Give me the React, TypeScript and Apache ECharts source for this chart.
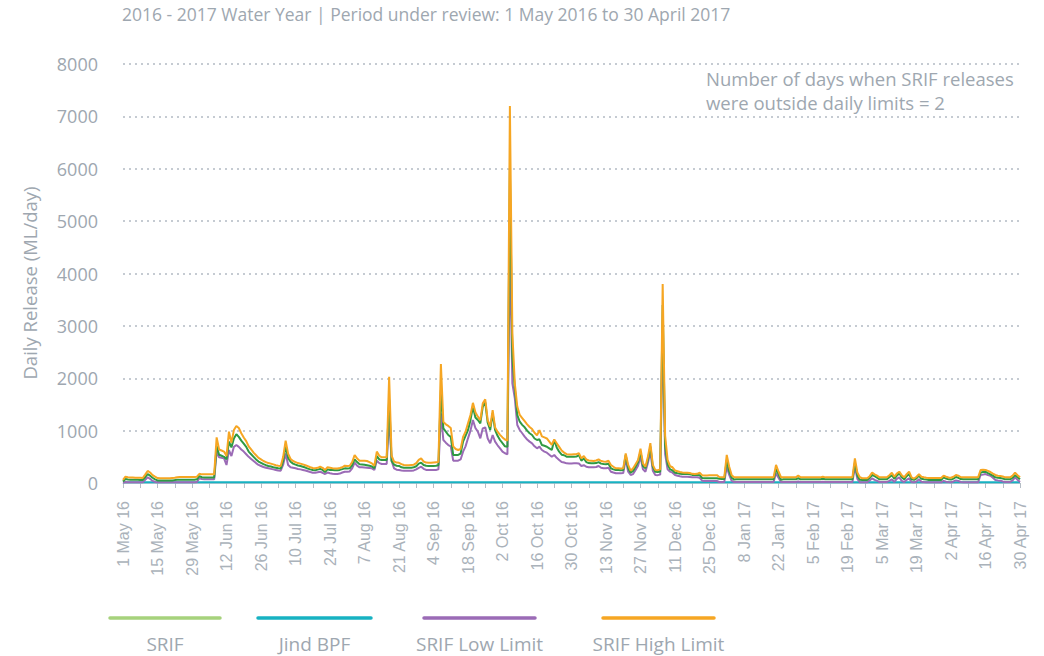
import React, { useEffect, useRef } from "react";
import * as echarts from "echarts";

const TITLE = "2016 - 2017 Water Year | Period under review: 1 May 2016 to 30 April 2017";
const NOTE_LINES = ["Number of days when SRIF releases", "were outside daily limits = 2"];
const Y_NAME = "Daily Release (ML/day)";
const SERIES_NAMES = ["SRIF", "Jind BPF", "SRIF Low Limit", "SRIF High Limit"];
const LEGEND_COLORS = ["#a6d27c", "#17b2c2", "#9b6bb6", "#f6a623"];
const LINE_COLORS = ["#2f9a43", "#17b2c2", "#9b6bb6", "#f6a623"];
const MONTHS = ["Jan", "Feb", "Mar", "Apr", "May", "Jun", "Jul", "Aug", "Sep", "Oct", "Nov", "Dec"];
const START_DATE = Date.UTC(2016, 4, 1);
const Y_TICKS = [0, 1000, 2000, 3000, 4000, 5000, 6000, 7000, 8000];

const HIGH_LIMIT = [
  60, 120, 110, 105, 105, 100, 100, 100, 95, 160,
  230, 200, 150, 120, 95, 90, 90, 90, 90, 90,
  95, 100, 110, 115, 115, 115, 115, 115, 115, 115,
  120, 175, 165, 165, 165, 165, 165, 165, 870, 640,
  620, 600, 515, 980, 770, 1010, 1088, 1050, 950, 870,
  800, 700, 640, 580, 530, 480, 450, 420, 400, 380,
  370, 355, 340, 330, 325, 500, 810, 560, 460, 420,
  400, 380, 370, 355, 340, 320, 300, 285, 280, 290,
  310, 290, 250, 300, 290, 280, 275, 275, 285, 300,
  330, 325, 330, 400, 535, 470, 425, 425, 425, 420,
  400, 375, 330, 600, 520, 490, 490, 490, 2030, 520,
  410, 390, 385, 360, 345, 340, 340, 345, 350, 380,
  440, 470, 410, 390, 385, 385, 390, 395, 400, 2270,
  1170, 1120, 1090, 1050, 700, 650, 630, 650, 880, 980,
  1140, 1300, 1530, 1350, 1266, 1200, 1520, 1597, 1200, 1075,
  1390, 1060, 980, 920, 870, 830, 810, 7200, 2860, 1900,
  1460, 1300, 1240, 1180, 1120, 1070, 1030, 960, 910, 1010,
  890, 870, 850, 790, 730, 830, 760, 690, 620, 580,
  550, 545, 545, 550, 550, 570, 470, 515, 450, 430,
  425, 420, 430, 450, 420, 410, 405, 425, 345, 310,
  280, 280, 275, 280, 565, 345, 235, 280, 360, 440,
  655, 375, 310, 500, 760, 345, 250, 245, 260, 3800,
  900, 440, 320, 300, 240, 225, 210, 200, 195, 195,
  190, 175, 170, 175, 195, 150, 145, 145, 150, 150,
  150, 150, 115, 110, 108, 535, 310, 150, 108, 108,
  108, 108, 108, 108, 108, 108, 108, 108, 108, 108,
  108, 108, 108, 108, 108, 345, 220, 110, 108, 108,
  108, 108, 108, 108, 140, 108, 108, 108, 108, 108,
  108, 108, 108, 108, 121, 108, 108, 108, 108, 108,
  108, 108, 108, 108, 108, 108, 108, 470, 200, 110,
  90, 90, 90, 130, 197, 166, 140, 108, 108, 108,
  110, 150, 197, 120, 180, 216, 150, 108, 170, 216,
  108, 85, 120, 166, 120, 108, 100, 95, 95, 95,
  95, 95, 95, 140, 120, 105, 100, 120, 153, 140,
  110, 108, 108, 108, 108, 108, 108, 108, 248, 255,
  250, 230, 210, 180, 153, 140, 134, 125, 108, 108,
  108, 140, 197, 150, 108,
];

const SRIF = [
  30, 75, 65, 60, 60, 60, 60, 58, 55, 110,
  170, 140, 100, 70, 50, 48, 48, 48, 48, 48,
  50, 55, 60, 62, 62, 62, 62, 62, 62, 62,
  70, 130, 110, 105, 105, 105, 105, 105, 705, 540,
  520, 500, 452, 790, 680, 850, 930, 880, 810, 750,
  690, 600, 550, 500, 450, 410, 385, 360, 340, 325,
  315, 300, 290, 280, 275, 420, 706, 480, 405, 370,
  350, 335, 325, 310, 295, 275, 260, 248, 245, 255,
  270, 250, 210, 260, 250, 250, 245, 245, 250, 265,
  280, 275, 280, 340, 452, 400, 357, 355, 350, 340,
  330, 317, 280, 515, 450, 440, 440, 440, 1600, 420,
  350, 330, 325, 300, 292, 290, 290, 292, 300, 320,
  370, 388, 345, 330, 325, 325, 325, 330, 340, 1775,
  1044, 980, 916, 880, 535, 535, 535, 560, 790, 900,
  1012, 1200, 1457, 1250, 1203, 1140, 1457, 1540, 1150, 1012,
  1330, 1012, 900, 821, 760, 700, 690, 6000, 2411, 1807,
  1298, 1170, 1110, 1063, 1000, 950, 916, 850, 821, 834,
  725, 710, 693, 660, 630, 821, 680, 598, 540, 530,
  502, 500, 500, 502, 505, 535, 426, 470, 400, 380,
  375, 375, 380, 400, 370, 363, 360, 368, 280, 260,
  248, 248, 245, 250, 535, 280, 197, 230, 311, 400,
  598, 325, 280, 450, 693, 311, 216, 210, 220, 3400,
  700, 360, 261, 240, 197, 185, 178, 172, 170, 170,
  165, 155, 153, 155, 150, 95, 90, 90, 90, 90,
  90, 90, 80, 75, 75, 440, 216, 100, 65, 70,
  70, 70, 70, 70, 70, 70, 70, 70, 70, 70,
  70, 70, 70, 70, 70, 261, 170, 60, 70, 70,
  70, 70, 70, 70, 90, 70, 70, 70, 70, 70,
  70, 70, 70, 70, 80, 70, 70, 70, 70, 70,
  70, 70, 70, 70, 70, 70, 70, 388, 140, 60,
  57, 57, 57, 100, 153, 130, 100, 70, 70, 70,
  72, 110, 150, 80, 140, 185, 110, 70, 130, 172,
  70, 60, 90, 140, 80, 70, 65, 57, 57, 57,
  57, 57, 57, 108, 85, 70, 65, 85, 115, 100,
  75, 70, 70, 70, 70, 70, 70, 70, 197, 210,
  216, 190, 165, 140, 108, 100, 95, 85, 70, 70,
  70, 100, 150, 110, 70,
];

const LOW_LIMIT = [
  5, 20, 15, 12, 12, 12, 12, 12, 12, 60,
  110, 80, 40, 20, 15, 15, 15, 15, 15, 15,
  15, 15, 15, 15, 15, 15, 15, 15, 15, 15,
  20, 90, 75, 70, 70, 70, 70, 70, 598, 490,
  480, 470, 344, 630, 515, 690, 725, 690, 640, 600,
  550, 500, 460, 420, 380, 345, 325, 305, 290, 280,
  270, 260, 250, 240, 235, 350, 565, 345, 300, 290,
  280, 267, 260, 250, 240, 225, 210, 197, 195, 205,
  215, 195, 172, 200, 185, 175, 172, 172, 180, 200,
  216, 215, 220, 280, 388, 330, 300, 300, 295, 290,
  285, 280, 250, 426, 380, 363, 363, 363, 1265, 420,
  280, 255, 248, 240, 235, 235, 235, 235, 240, 260,
  290, 311, 270, 250, 248, 248, 248, 250, 260, 1330,
  821, 770, 725, 700, 426, 426, 426, 450, 598, 700,
  853, 1000, 1203, 1050, 980, 853, 1044, 1063, 850, 758,
  916, 790, 720, 662, 600, 567, 550, 4500, 1903, 1616,
  1107, 1012, 950, 884, 830, 790, 758, 700, 662, 693,
  630, 600, 579, 540, 502, 535, 480, 440, 400, 390,
  375, 372, 372, 375, 375, 372, 325, 340, 310, 300,
  300, 300, 305, 325, 290, 280, 280, 290, 216, 200,
  185, 185, 185, 190, 452, 216, 153, 170, 248, 330,
  502, 261, 216, 380, 598, 235, 153, 150, 160, 2900,
  550, 260, 216, 197, 153, 140, 130, 121, 121, 121,
  115, 108, 108, 110, 100, 45, 40, 38, 38, 38,
  38, 38, 20, 20, 20, 311, 153, 40, 19, 19,
  19, 19, 19, 19, 19, 19, 19, 19, 19, 19,
  19, 19, 19, 19, 19, 185, 100, 19, 19, 19,
  19, 19, 19, 19, 30, 19, 19, 19, 19, 19,
  19, 19, 19, 19, 25, 19, 19, 19, 19, 19,
  19, 19, 19, 19, 19, 19, 19, 311, 80, 15,
  13, 13, 13, 50, 89, 60, 40, 19, 19, 19,
  20, 40, 70, 19, 80, 108, 40, 19, 60, 89,
  19, 15, 30, 70, 25, 19, 15, 13, 13, 13,
  13, 13, 13, 40, 25, 19, 15, 30, 50, 40,
  19, 13, 13, 13, 13, 13, 13, 13, 153, 160,
  170, 150, 140, 100, 57, 50, 45, 30, 19, 19,
  19, 50, 108, 60, 19,
];

const JIND_BPF = [
  12, 12, 12, 12, 12, 12, 12, 12, 12, 12, 12, 12, 12, 12, 12, 12, 12, 12, 12, 12,
  12, 12, 12, 12, 12, 12, 12, 12, 12, 12, 12, 12, 12, 12, 12, 12, 12, 12, 12, 12,
  12, 12, 12, 12, 12, 12, 12, 12, 12, 12, 12, 12, 12, 12, 12, 12, 12, 12, 12, 12,
  12, 12, 12, 12, 12, 12, 12, 12, 12, 12, 12, 12, 12, 12, 12, 12, 12, 12, 12, 12,
  12, 12, 12, 12, 12, 12, 12, 12, 12, 12, 12, 12, 12, 12, 12, 12, 12, 12, 12, 12,
  12, 12, 12, 12, 12, 12, 12, 12, 12, 12, 12, 12, 12, 12, 12, 12, 12, 12, 12, 12,
  12, 12, 12, 12, 12, 12, 12, 12, 12, 12, 12, 12, 12, 12, 12, 12, 12, 12, 12, 12,
  12, 12, 12, 12, 12, 12, 12, 12, 12, 12, 12, 12, 12, 12, 12, 12, 12, 12, 12, 12,
  12, 12, 12, 12, 12, 12, 12, 12, 12, 12, 12, 12, 12, 12, 12, 12, 12, 12, 12, 12,
  12, 12, 12, 12, 12, 12, 12, 12, 12, 12, 12, 12, 12, 12, 12, 12, 12, 12, 12, 12,
  12, 12, 12, 12, 12, 12, 12, 12, 12, 12, 12, 12, 12, 12, 12, 12, 12, 12, 12, 12,
  12, 12, 12, 12, 12, 12, 12, 12, 12, 12, 12, 12, 12, 12, 12, 12, 12, 12, 12, 12,
  12, 12, 12, 12, 12, 12, 12, 12, 12, 12, 12, 12, 12, 12, 12, 12, 12, 12, 12, 12,
  12, 12, 12, 12, 12, 12, 12, 12, 12, 12, 12, 12, 12, 12, 12, 12, 12, 12, 12, 12,
  12, 12, 12, 12, 12, 12, 12, 12, 12, 12, 12, 12, 12, 12, 12, 12, 12, 12, 12, 12,
  12, 12, 12, 12, 12, 12, 12, 12, 12, 12, 12, 12, 12, 12, 12, 12, 12, 12, 12, 12,
  12, 12, 12, 12, 12, 12, 12, 12, 12, 12, 12, 12, 12, 12, 12, 12, 12, 12, 12, 12,
  12, 12, 12, 12, 12, 12, 12, 12, 12, 12, 12, 12, 12, 12, 12, 12, 12, 12, 12, 12,
  12, 12, 12, 12, 12,
];

const DATES = HIGH_LIMIT.map((_, i) => {
  const d = new Date(START_DATE + i * 86400000);
  return `${d.getUTCDate()} ${MONTHS[d.getUTCMonth()]} ${String(d.getUTCFullYear()).slice(2)}`;
});

const TEXT = "#9ea7b0";
const FONT = "'Open Sans', Lato, sans-serif";

export default function App() {
  const ref = useRef<HTMLDivElement>(null);
  useEffect(() => {
    document.body.style.margin = "0";
    document.body.style.overflow = "hidden";
    if (!ref.current) return;
    const chart = echarts.init(ref.current, null, { renderer: "svg" });
    const legendX = [110, 258, 424, 603];
    const legendW = [110, 113, 111, 111];
    const legendGraphics: any[] = [];
    SERIES_NAMES.forEach((name, i) => {
      legendGraphics.push({
        type: "line",
        shape: { x1: legendX[i], y1: 618, x2: legendX[i] + legendW[i], y2: 618 },
        style: { stroke: LEGEND_COLORS[i], lineWidth: 3.5, lineCap: "round" },
      });
      legendGraphics.push({
        type: "text",
        x: legendX[i] + legendW[i] / 2,
        y: 644,
        style: { text: name, fill: TEXT, font: `19px ${FONT}`, align: "center", verticalAlign: "middle" },
      });
    });
    const seriesData = [SRIF, JIND_BPF, LOW_LIMIT, HIGH_LIMIT];
    const order = [1, 2, 0, 3];
    chart.setOption({
      animation: false,
      backgroundColor: "#ffffff",
      grid: { left: 123, right: 24, top: 64, bottom: 173, containLabel: false },
      xAxis: {
        type: "category",
        data: DATES,
        boundaryGap: false,
        axisLine: { show: true, lineStyle: { color: "#c3cad1", width: 1 } },
        axisTick: {
          show: true,
          interval: (i: number) => i % 7 === 0,
          length: 5,
          lineStyle: { color: "#b5bdc5", width: 1 },
        },
        axisLabel: {
          interval: (i: number) => i % 14 === 0,
          rotate: 90,
          margin: 18,
          color: "#aab2ba",
          fontFamily: "'Liberation Sans', Arial, sans-serif",
          fontSize: 16,
        },
        splitLine: { show: false },
      },
      yAxis: {
        type: "value",
        min: Y_TICKS[0],
        max: Y_TICKS[Y_TICKS.length - 1],
        interval: 1000,
        axisLine: { show: false },
        axisTick: { show: false },
        axisLabel: {
          color: TEXT,
          fontFamily: FONT,
          fontSize: 18,
          margin: 25,
          formatter: (v: number) => String(v),
        },
        splitLine: { show: true, lineStyle: { color: "#b3bbc3", type: [2, 4], width: 1.5 } },
      },
      series: order.map((i) => ({
        name: SERIES_NAMES[i],
        type: "line",
        data: seriesData[i],
        showSymbol: false,
        symbol: "none",
        lineStyle: { color: LINE_COLORS[i], width: 2 },
        itemStyle: { color: LINE_COLORS[i] },
      })),
      graphic: [
        {
          type: "text",
          x: 122,
          y: 14,
          style: { text: TITLE, fill: TEXT, font: `17.5px ${FONT}`, verticalAlign: "middle" },
        },
        {
          type: "text",
          x: 706,
          y: 78,
          style: { text: NOTE_LINES[0], fill: TEXT, font: `18.5px ${FONT}`, verticalAlign: "middle" },
        },
        {
          type: "text",
          x: 706,
          y: 102,
          style: { text: NOTE_LINES[1], fill: TEXT, font: `18.5px ${FONT}`, verticalAlign: "middle" },
        },
        {
          type: "text",
          x: 29,
          y: 283,
          rotation: Math.PI / 2,
          style: { text: Y_NAME, fill: TEXT, font: `18.5px ${FONT}`, align: "center", verticalAlign: "middle" },
        },
        ...legendGraphics,
      ],
    });
    return () => chart.dispose();
  }, []);
  return <div ref={ref} style={{ position: "absolute", left: 0, top: 0, width: 1044, height: 656 }} />;
}
